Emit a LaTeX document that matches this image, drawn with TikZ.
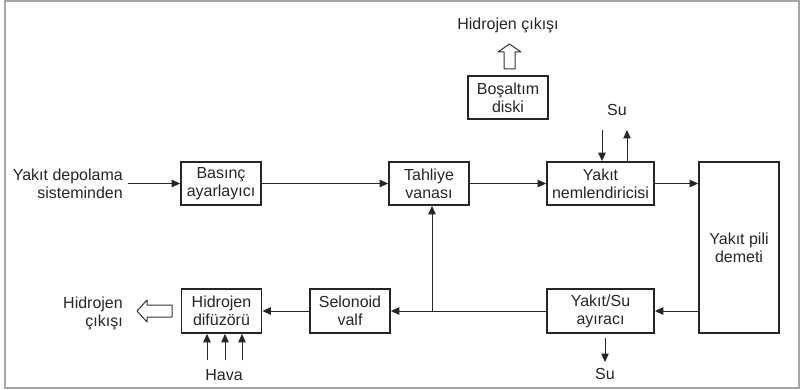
\documentclass[tikz,border=0pt]{standalone}
\usepackage{fontspec}
\setmainfont{Liberation Sans}
\usetikzlibrary{arrows.meta}
\begin{document}
\begin{tikzpicture}[x=1pt,y=-1pt,
  every node/.style={font=\fontsize{16}{18}\selectfont, text=black!85},
  blk/.style={draw=black!85, line width=1.8pt, align=center, inner sep=0pt},
  conn/.style={draw=black!85, line width=1pt, -{Triangle[length=8.5pt,width=7.5pt]}},
  hollow/.style={draw=black!80, line width=1pt, fill=white, line join=round},
  lbl/.style={align=center, inner sep=0pt}]
\useasboundingbox (0,0) rectangle (802,390);
\draw[gray!70, line width=1.5pt] (5,1) rectangle (799,388);

\node[blk, minimum width=80pt, minimum height=43pt] (bas) at (221,183.5) {Basınç\\ayarlayıcı};
\node[blk, minimum width=80pt, minimum height=43pt] (tah) at (429,183.5) {Tahliye\\vanası};
\node[blk, minimum width=80pt, minimum height=43pt] (bos) at (508,97.5) {Boşaltım\\diski};
\node[blk, minimum width=107pt, minimum height=43pt] (nem) at (600.5,183.5) {Yakıt\\nemlendiricisi};
\node[blk, minimum width=80pt, minimum height=171pt] (pil) at (739,247.5) {Yakıt pili\\demeti};
\node[blk, minimum width=107pt, minimum height=44pt] (ayr) at (600.5,311) {Yakıt/Su\\ayıracı};
\node[blk, minimum width=80pt, minimum height=44pt] (sel) at (350,311) {Selonoid\\valf};
\node[blk, minimum width=80pt, minimum height=44pt] (dif) at (221.5,311) {Hidrojen\\difüzörü};

\node[lbl, align=right, anchor=east] (src) at (123,184) {Yakıt depolama\\sisteminden};
\node[lbl, align=right, anchor=east] (hout) at (123,313) {Hidrojen\\çıkışı};
\node[lbl] (htop) at (508,25) {Hidrojen çıkışı};
\node[lbl] (sutop) at (617,110) {Su};
\node[lbl] (hava) at (224,375) {Hava};
\node[lbl] (subot) at (605,374) {Su};

% main flow
\draw[conn] (src.east |- bas.west) ++(5,0) coordinate (s0) -- (bas.west);
\draw[conn] (bas.east) -- (tah.west);
\draw[conn] (tah.east) -- (nem.west);
\draw[conn] (nem.east) -- (nem.east -| pil.west);
\draw[conn] (ayr.east -| pil.west) -- (ayr.east);
\coordinate (j) at (432,311);
\draw[conn] (ayr.west) -- (sel.east);
\draw[conn] (j) -- (j |- tah.south);
\draw[conn] (sel.west) -- (dif.east);

% water at humidifier
\coordinate (wd) at (602,130);
\coordinate (wu) at (627,130);
\draw[conn] (wd) -- (wd |- nem.north);
\draw[conn] (wu |- nem.north) -- (wu);

% water out of separator
\coordinate (wb) at (605,362);
\draw[conn] (wb |- ayr.south) ++(0,4) -- (wb);

% air inlets
\foreach \xx/\nm in {207/a, 225/b, 242/c}{
  \coordinate (h\nm) at (\xx,360);
  \draw[conn] (h\nm) -- (h\nm |- dif.south);
}

% hollow arrows
\draw[hollow] (515,69) -- (515,52) -- (521,52) -- (509.5,44) -- (498,52) -- (504,52) -- (504,69) -- cycle;
\draw[hollow] (172,305) -- (147,305) -- (147,300) -- (137,311) -- (147,322) -- (147,317) -- (172,317) -- cycle;
\end{tikzpicture}
\end{document}
